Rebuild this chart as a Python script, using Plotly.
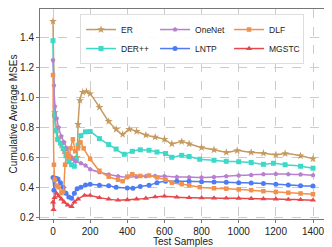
import plotly.graph_objects as go

# ---- data ----
er_x = [0, 10, 20, 30, 45, 60, 75, 90, 105, 120, 128, 135, 145, 160, 180, 200, 250, 300, 340, 375, 410, 450, 500, 550, 600, 640, 693, 733, 800, 867, 933, 992, 1067, 1133, 1200, 1250, 1333, 1400]
er_y = [1.51, 0.90, 0.78, 0.72, 0.68, 0.64, 0.62, 0.60, 0.59, 0.59, 0.60, 0.82, 0.98, 1.035, 1.04, 1.025, 0.935, 0.84, 0.787, 0.753, 0.787, 0.773, 0.748, 0.735, 0.72, 0.69, 0.705, 0.69, 0.665, 0.65, 0.633, 0.645, 0.633, 0.627, 0.617, 0.625, 0.61, 0.59]

der_x = [0, 8, 15, 25, 40, 55, 70, 85, 100, 115, 125, 135, 150, 175, 200, 250, 300, 340, 384, 427, 470, 517, 560, 606, 640, 693, 733, 790, 867, 933, 1000, 1067, 1133, 1187, 1250, 1333, 1400]
der_y = [1.38, 0.88, 0.78, 0.72, 0.695, 0.66, 0.61, 0.57, 0.55, 0.54, 0.58, 0.68, 0.745, 0.77, 0.772, 0.725, 0.685, 0.655, 0.62, 0.64, 0.65, 0.647, 0.635, 0.625, 0.60, 0.613, 0.605, 0.587, 0.58, 0.573, 0.57, 0.565, 0.553, 0.56, 0.55, 0.54, 0.527]

one_x = [0, 5, 10, 20, 30, 45, 60, 75, 90, 105, 120, 150, 175, 200, 250, 300, 350, 400, 450, 500, 550, 600, 667, 733, 800, 867, 933, 1000, 1067, 1133, 1200, 1267, 1333, 1400]
one_y = [1.25, 1.08, 0.94, 0.86, 0.80, 0.74, 0.70, 0.66, 0.61, 0.59, 0.575, 0.56, 0.545, 0.52, 0.50, 0.485, 0.473, 0.467, 0.47, 0.473, 0.475, 0.473, 0.468, 0.467, 0.465, 0.468, 0.473, 0.478, 0.482, 0.487, 0.488, 0.487, 0.485, 0.48]

lntp_x = [0, 5, 15, 27, 40, 55, 70, 85, 100, 115, 130, 150, 175, 200, 250, 300, 340, 400, 430, 470, 517, 560, 606, 667, 733, 800, 867, 933, 1000, 1067, 1133, 1200, 1267, 1333, 1400]
lntp_y = [0.465, 0.38, 0.46, 0.455, 0.43, 0.40, 0.36, 0.335, 0.325, 0.36, 0.39, 0.40, 0.415, 0.42, 0.413, 0.41, 0.40, 0.395, 0.393, 0.405, 0.413, 0.43, 0.44, 0.44, 0.44, 0.437, 0.435, 0.433, 0.43, 0.428, 0.425, 0.42, 0.415, 0.41, 0.407]

dlf_x = [0, 5, 10, 20, 30, 45, 55, 65, 75, 85, 95, 107, 120, 135, 148, 165, 200, 250, 300, 350, 375, 400, 427, 470, 517, 560, 606, 640, 693, 733, 790, 867, 933, 1000, 1067, 1133, 1200, 1267, 1333, 1400]
dlf_y = [1.15, 0.55, 0.45, 0.41, 0.40, 0.36, 0.37, 0.55, 0.62, 0.60, 0.66, 0.72, 0.64, 0.66, 0.70, 0.66, 0.59, 0.51, 0.47, 0.45, 0.44, 0.47, 0.487, 0.475, 0.478, 0.465, 0.45, 0.43, 0.42, 0.413, 0.40, 0.393, 0.39, 0.385, 0.38, 0.373, 0.368, 0.363, 0.358, 0.353]

mg_x = [0, 3, 8, 18, 30, 45, 60, 80, 100, 115, 135, 170, 200, 250, 300, 350, 400, 450, 500, 550, 600, 667, 733, 800, 867, 933, 1000, 1067, 1133, 1200, 1267, 1333, 1400]
mg_y = [0.30, 0.25, 0.33, 0.36, 0.34, 0.32, 0.30, 0.28, 0.27, 0.30, 0.32, 0.345, 0.345, 0.33, 0.32, 0.313, 0.315, 0.32, 0.325, 0.335, 0.34, 0.333, 0.33, 0.328, 0.327, 0.326, 0.325, 0.324, 0.322, 0.32, 0.318, 0.316, 0.313]

x_ticks = [0, 200, 400, 600, 800, 1000, 1200, 1400]
y_ticks = [0.2, 0.4, 0.6, 0.8, 1.0, 1.2, 1.4]

series = [
    ("ER", er_x, er_y, "#C49A60", "star", 6, 1),
    ("DER++", der_x, der_y, "#3ED8C8", "square", 5, 4),
    ("OneNet", one_x, one_y, "#B880CF", "pentagon", 5, 2),
    ("LNTP", lntp_x, lntp_y, "#4C7BF5", "circle", 5, 5),
    ("DLF", dlf_x, dlf_y, "#F0914D", "square", 4.5, 3),
    ("MGSTC", mg_x, mg_y, "#E4484C", "triangle-up", 5.5, 6),
]

fig = go.Figure()
for name, xs, ys, color, sym, ms, rank in series:
    fig.add_trace(go.Scatter(
        x=xs, y=ys, name=name, mode="lines+markers",
        line=dict(color=color, width=1.5, shape="spline", smoothing=0.6),
        marker=dict(color=color, symbol=sym, size=ms, line=dict(width=0)),
        legendrank=rank,
    ))

font = "Liberation Sans, Arial, sans-serif"
# page body has an 8px default margin, so the figure is 8px smaller each way
fig.update_layout(
    width=324, height=239,
    margin=dict(l=32, r=6, t=0, b=27),
    paper_bgcolor="white", plot_bgcolor="white",
    font=dict(family=font, size=10, color="#222"),
    showlegend=True,
    legend=dict(
        orientation="h", x=0.14, y=0.976, xanchor="left", yanchor="top",
        bgcolor="rgba(255,255,255,0.9)", bordercolor="#dddddd", borderwidth=1,
        font=dict(family=font, size=8.5, color="#222"),
        entrywidth=29, entrywidthmode="pixels",
        itemwidth=30,
    ),
)
axis_common = dict(
    showgrid=True, gridcolor="#cccccc", griddash="dash", gridwidth=0.8,
    showline=True, linecolor="#777777", linewidth=1, mirror=True,
    ticks="outside", ticklen=3, tickcolor="#777777", zeroline=False,
    tickfont=dict(family=font, size=10, color="#222"),
)
fig.update_xaxes(range=[-70, 1470], tickvals=x_ticks,
                 title=dict(text="Test Samples", font=dict(family=font, size=10), standoff=3),
                 **axis_common)
fig.update_yaxes(range=[0.187, 1.592], tickvals=y_ticks, tickformat=".1f",
                 title=dict(text="Cumulative Average MSEs", font=dict(family=font, size=10), standoff=2),
                 **axis_common)

fig.write_html("out.html")
